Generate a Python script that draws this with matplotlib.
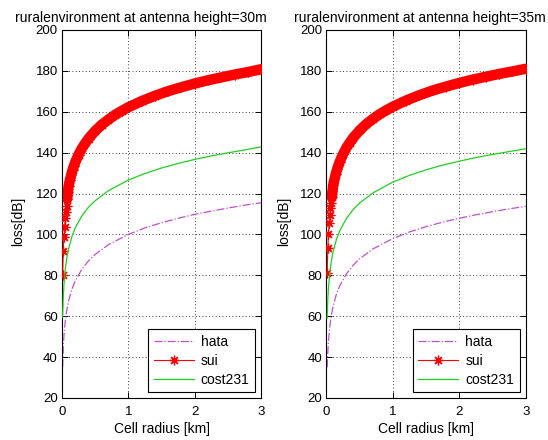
import numpy as np
import matplotlib
matplotlib.use("Agg")
import matplotlib.pyplot as plt

plt.rcParams['font.family'] = ['Liberation Sans', 'DejaVu Sans']

# cell radius [km] for hata / cost231 curves
d = [0.01, 0.02, 0.03, 0.05, 0.07, 0.1, 0.15, 0.2, 0.3, 0.4, 0.5, 0.7,
     1.0, 1.25, 1.5, 1.75, 2.0, 2.25, 2.5, 2.75, 3.0]

# antenna height = 30m
hata30 = [35, 44.8, 50.5, 57.7, 62.5, 67.5, 73.2, 77.3, 83.0, 87.1, 90.2, 95.0,
          100.0, 103.2, 105.7, 107.9, 109.8, 111.4, 112.9, 114.3, 115.5]
cost30 = [59.6, 69.7, 75.6, 83.0, 87.9, 93.1, 99.0, 103.2, 109.1, 113.3, 116.5, 121.4,
          126.6, 129.8, 132.5, 134.7, 136.7, 138.4, 139.9, 141.3, 142.8]

# antenna height = 35m
hata35 = [35, 42.5, 48.0, 55.1, 59.9, 65.0, 70.8, 74.9, 80.7, 84.9, 88.1, 92.9,
          98.0, 101.2, 103.8, 106.0, 107.9, 109.6, 111.1, 112.5, 113.7]
cost35 = [59.0, 68.5, 74.0, 81.4, 86.3, 91.6, 97.6, 101.8, 107.8, 112.1, 115.4, 120.3,
          125.6, 128.9, 131.6, 133.9, 135.8, 137.6, 139.1, 140.5, 141.9]

# cell radius [km] for sui curve
d_sui = [0.01, 0.02, 0.03, 0.04, 0.05, 0.06, 0.07, 0.08, 0.09, 0.1, 0.12, 0.14,
         0.16, 0.18, 0.2, 0.25, 0.3, 0.35, 0.4, 0.5, 0.6, 0.7, 0.8, 0.9, 1.0,
         1.2, 1.4, 1.6, 1.8, 2.0, 2.2, 2.4, 2.6, 2.8, 3.0]
sui30 = [80.0, 92.0, 98.8, 103.8, 107.8, 111.0, 113.8, 117.5, 120.8, 123.7, 126.7, 129.3,
         131.6, 133.5, 135.3, 139.0, 142.1, 144.6, 146.9, 150.6, 153.7, 156.2, 158.5, 160.4, 162.2,
         165.2, 167.8, 170.1, 172.0, 173.8, 175.4, 176.8, 178.2, 179.4, 180.8]
sui35 = [81.0, 93.2, 100.2, 105.4, 109.5, 112.8, 115.5, 118.2, 121.0, 124.0, 127.0, 129.6,
         131.9, 133.8, 135.6, 139.3, 142.4, 144.9, 147.2, 150.9, 154.0, 156.5, 158.8, 160.7, 162.5,
         165.5, 168.1, 170.4, 172.3, 174.1, 175.7, 177.1, 178.5, 179.7, 181.0]

panels = [
    ("ruralenvironment at antenna height=30m", hata30, sui30, cost30, 0.1131, 0.397, -0.186),
    ("ruralenvironment at antenna height=35m", hata35, sui35, cost35, 0.5958, 0.47, -0.178),
]

fig = plt.figure(figsize=(5.48, 4.4), dpi=100)
fig.patch.set_facecolor('white')

for title, hata, sui, cost, x0, tx, ylx in panels:
    ax = fig.add_axes([x0, 0.0955, 0.3634, 0.8364])
    l1, = ax.plot(d, hata, color='#c050d0', linestyle='-.', linewidth=0.9, label='hata')
    # thick band from the dense star markers
    ax.plot(d_sui[7:], sui[7:], color='red', linewidth=7.5, solid_capstyle='round', zorder=2)
    l2, = ax.plot(d_sui, sui, color='red', linewidth=0.8, marker=(8, 2, 0), markersize=7,
                  markeredgewidth=0.9, markeredgecolor='red', label='sui', zorder=3)
    l3, = ax.plot(d, cost, color='#20d020', linewidth=0.9, label='cost231', zorder=4)

    ax.set_xlim(0, 3)
    ax.set_ylim(20, 200)
    ax.set_xticks([0, 1, 2, 3])
    ax.set_yticks(np.arange(20, 201, 20))
    ax.grid(True, color='k', linestyle=(0, (1, 3)), linewidth=0.6)
    ax.tick_params(direction='in', length=4, width=0.7, top=True, right=True,
                   labelsize=9.5, pad=3)
    ax.tick_params(axis='x', pad=6)
    for s in ax.spines.values():
        s.set_linewidth(0.8)

    ax.set_title(title, fontsize=10, x=tx, pad=6)
    ax.set_xlabel('Cell radius [km]', fontsize=10)
    ax.xaxis.set_label_coords(0.5, -0.065)
    ax.set_ylabel('loss[dB]', fontsize=10)
    ax.yaxis.set_label_coords(ylx, 0.48)

    leg = ax.legend(handles=[l1, l2, l3], loc='lower right', bbox_to_anchor=(0.970, 0.016),
                    borderaxespad=0, fancybox=False, framealpha=1, edgecolor='k',
                    fontsize=10, handlelength=2.9, handletextpad=0.5, labelspacing=0.35,
                    borderpad=0.4)
    leg.get_frame().set_linewidth(0.8)

fig.savefig('out.png', dpi=100)
